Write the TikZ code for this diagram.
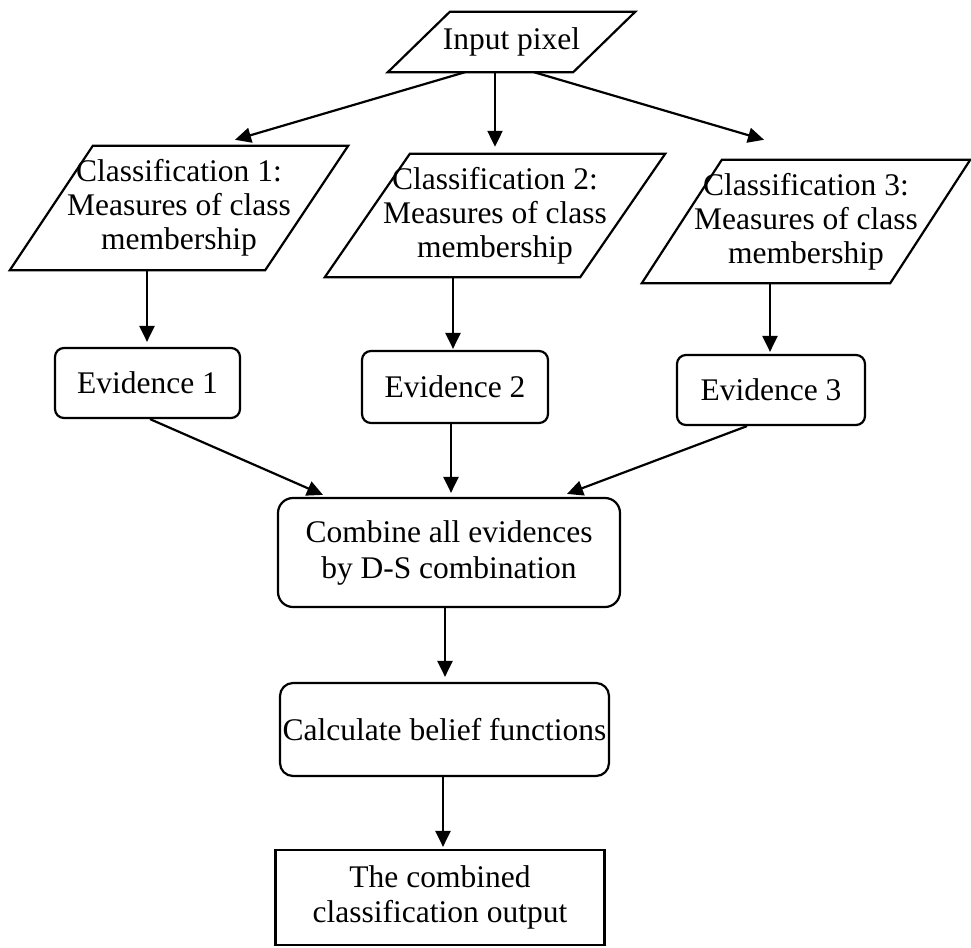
\documentclass[tikz,border=0pt]{standalone}
\usepackage{fontspec}
\setmainfont{Liberation Serif}
\usetikzlibrary{arrows.meta,calc}

% outline of a slanted (parallelogram) box around a plain text node
\newcommand{\slantoutline}[2]{%
  \draw[ln] ([xshift=#2]#1.north west) -- ([xshift=#2]#1.north east)
    -- ([xshift=-#2]#1.south east) -- ([xshift=-#2]#1.south west) -- cycle;}

\begin{document}
\begin{tikzpicture}[x=1pt,y=-1pt,
  ln/.style={line width=2.2pt, line join=miter},
  txt/.style={inner sep=0pt, align=center, font=\fontsize{31.5}{34}\selectfont},
  roundbox/.style={txt, ln, draw, rounded corners=#1},
  plainbox/.style={txt, ln, draw},
  arr/.style={ln, -{Triangle[length=16pt,width=15pt]}}]

\useasboundingbox (0,0) rectangle (971,947);

% input and the three classifications (outlines drawn below)
\node[txt, minimum width=185pt, minimum height=60pt] (in) at (511.5,42) {Input pixel};
\node[txt, minimum width=255pt, minimum height=124pt] (c1) at (179,208)
  {Classification 1:\\Measures of class\\membership};
\node[txt, minimum width=255pt, minimum height=123pt] (c2) at (495,215.5)
  {Classification 2:\\Measures of class\\membership};
\node[txt, minimum width=248pt, minimum height=123pt] (c3) at (806,221.5)
  {Classification 3:\\Measures of class\\membership};

\slantoutline{in}{31pt}
\slantoutline{c1}{41.5pt}
\slantoutline{c2}{42.5pt}
\slantoutline{c3}{40pt}

% evidences
\node[roundbox=9pt, minimum width=185pt, minimum height=70pt] (e1) at (147.5,383) {Evidence 1};
\node[roundbox=9pt, minimum width=186pt, minimum height=72pt] (e2) at (455,387) {Evidence 2};
\node[roundbox=9pt, minimum width=188pt, minimum height=70pt] (e3) at (771,390) {Evidence 3};

% combination, belief and output
\node[roundbox=15pt, minimum width=342pt, minimum height=109pt, font=\fontsize{31.5}{36}\selectfont]
  (comb) at (449,552.5) {Combine all evidences\\by D-S combination};
\node[roundbox=13pt, minimum width=329pt, minimum height=93pt] (calc) at (444.5,729.5)
  {Calculate belief functions};
\node[plainbox, minimum width=329pt, minimum height=95pt, font=\fontsize{31.5}{35}\selectfont]
  (out) at (440,897.5) {The combined\\classification output};

% connectors
\draw[arr] ([xshift=-46.5pt]in.south) -- ([xshift=56pt,yshift=6pt]c1.north);
\draw[arr] ([xshift=-16.5pt]in.south) -- ([yshift=7pt]c2.north);
\draw[arr] ([xshift=22.5pt]in.south) -- ([xshift=-42pt,yshift=20pt]c3.north);

\draw[arr] ([xshift=-32pt]c1.south) -- ([xshift=-0.5pt,yshift=5pt]e1.north);
\draw[arr] ([xshift=-42pt]c2.south) -- ([xshift=-2pt,yshift=1pt]e2.north);
\draw[arr] ([xshift=-36pt]c3.south) -- ([xshift=-1pt,yshift=2pt]e3.north);

\draw[arr] ([xshift=2.5pt]e1.south) -- ([xshift=-126pt,yshift=2pt]comb.north);
\draw[arr] ([xshift=-4pt]e2.south) -- ([xshift=2pt,yshift=4pt]comb.north);
\draw[arr] ([xshift=-24pt]e3.south) -- ([xshift=118pt,yshift=3pt]comb.north);

\draw[arr] ([xshift=-4pt]comb.south) -- ([xshift=0.5pt,yshift=5pt]calc.north);
\draw[arr] ([xshift=-1.5pt]calc.south) -- ([xshift=3pt,yshift=2pt]out.north);

\end{tikzpicture}
\end{document}
